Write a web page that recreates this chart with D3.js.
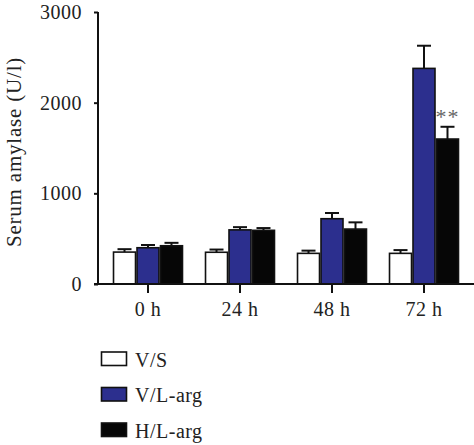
<!DOCTYPE html>
<html><head><meta charset="utf-8">
<script src="https://cdn.jsdelivr.net/npm/d3@7"></script>
<style>body{margin:0;background:#fff}svg{display:block}text{font-family:"Liberation Serif",serif;fill:#222}</style>
</head><body><svg id="c" width="474" height="445"></svg>
<script>
const categories = ["0 h","24 h","48 h","72 h"];
const seriesNames = ["V/S","V/L-arg","H/L-arg"];
const vsMean   = [352, 350, 338, 338];
const vsErr    = [32, 30, 30, 36];
const vlMean   = [400, 597, 720, 2378];
const vlErr    = [30, 30, 63, 250];
const hlMean   = [422, 592, 606, 1599];
const hlErr    = [32, 25, 74, 135];
const yTicks   = [0, 1000, 2000, 3000];
const sigLabel = ["", "", "", "**"];
const colors   = ["#ffffff", "#2c2f8e", "#060606"];

const svg = d3.select("#c");
const x = d3.scaleBand().domain(categories).range([102, 470]).paddingInner(0.234).paddingOuter(0.117);
const xs = d3.scaleBand().domain(seriesNames).range([0, x.bandwidth()]);
const y = d3.scaleLinear().domain([0, 3000]).range([284, 12]);

const means = [vsMean, vlMean, hlMean];
const errs = [vsErr, vlErr, hlErr];
const data = [];
categories.forEach((c, i) => seriesNames.forEach((s, j) => data.push({c, s, j, v: means[j][i], e: errs[j][i]})));

// error bars (upper only)
const g = svg.append("g");
data.forEach(d => {
  const cx = x(d.c) + xs(d.s) + xs.bandwidth() / 2;
  g.append("line").attr("x1", cx).attr("x2", cx).attr("y1", y(d.v)).attr("y2", y(d.v + d.e)).attr("stroke", "#111").attr("stroke-width", 2);
  g.append("line").attr("x1", cx - 7).attr("x2", cx + 7).attr("y1", y(d.v + d.e)).attr("y2", y(d.v + d.e)).attr("stroke", "#111").attr("stroke-width", 2);
});
svg.append("g").selectAll("rect").data(data).join("rect")
  .attr("x", d => x(d.c) + xs(d.s) + 0.75)
  .attr("y", d => y(d.v))
  .attr("width", xs.bandwidth() - 1.5)
  .attr("height", d => y(0) - y(d.v))
  .attr("fill", d => colors[d.j])
  .attr("stroke", "#111").attr("stroke-width", 1.6);

// significance
categories.forEach((c, i) => {
  if (!sigLabel[i]) return;
  const cx = x(c) + xs(seriesNames[2]) + xs.bandwidth() / 2;
  svg.append("text").attr("x", cx).attr("y", y(hlMean[i] + hlErr[i]) - 3).attr("text-anchor", "middle")
    .style("font-size", "22px").style("letter-spacing", "1px").style("fill", "#666").text(sigLabel[i]);
});

// axes
const yAxis = svg.append("g").attr("transform", "translate(98,0)")
  .call(d3.axisLeft(y).tickValues(yTicks).tickSize(4).tickPadding(12).tickFormat(d3.format("d")));
yAxis.select(".domain").attr("stroke", "#111").attr("stroke-width", 2).attr("d", "M0,12V284");
yAxis.selectAll(".tick line").attr("stroke", "#111").attr("stroke-width", 2);
yAxis.selectAll("text").style("font-size", "20px").style("letter-spacing", "0.5px").style("font-family", "Liberation Serif").attr("fill", "#222");

const xAxis = svg.append("g").attr("transform", "translate(0,284)")
  .call(d3.axisBottom(x).tickSize(9).tickPadding(9));
xAxis.select(".domain").attr("stroke", "#111").attr("stroke-width", 2).attr("d", "M94,0H474");
xAxis.selectAll(".tick line").attr("stroke", "#111").attr("stroke-width", 2);
xAxis.selectAll("text").style("font-size", "20px").style("letter-spacing", "0.5px").style("font-family", "Liberation Serif").attr("fill", "#222");

svg.append("text").attr("transform", "translate(21,152) rotate(-90)").attr("text-anchor", "middle")
  .style("font-size", "21px").style("letter-spacing", "0.8px").text("Serum amylase (U/l)");

// legend
const lg = svg.append("g");
seriesNames.forEach((s, j) => {
  const yy = 352 + j * 35.5;
  lg.append("rect").attr("x", 101.5).attr("y", yy).attr("width", 25).attr("height", 13.5)
    .attr("fill", colors[j]).attr("stroke", "#111").attr("stroke-width", 1.6);
  lg.append("text").attr("x", 135).attr("y", yy + 14.5).style("font-size", "20px").style("letter-spacing", "0.5px").text(s);
});
</script></body></html>
